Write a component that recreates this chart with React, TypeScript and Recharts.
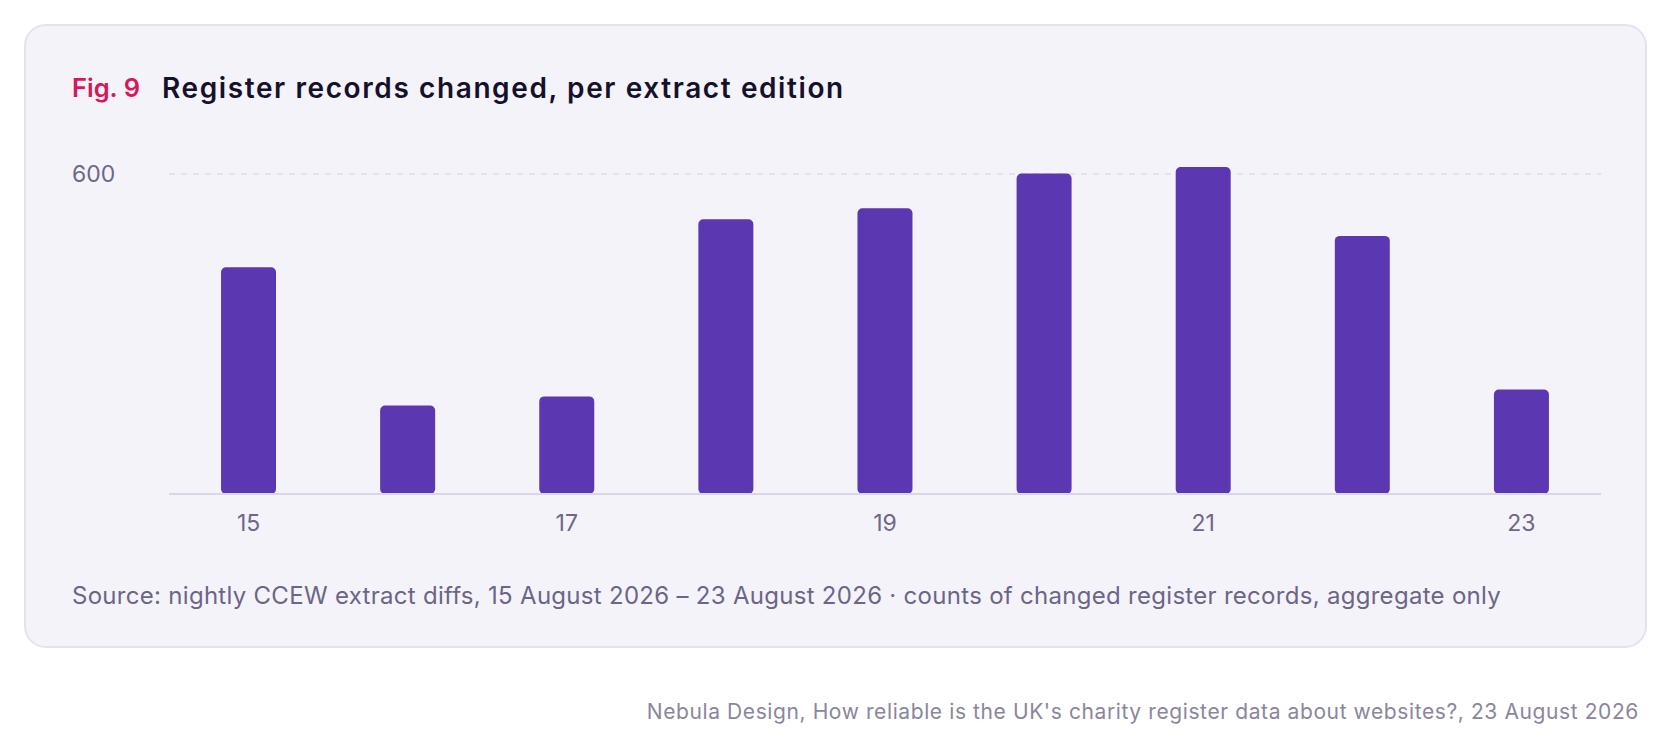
import React from 'react';
import { BarChart, Bar, XAxis, YAxis, CartesianGrid } from 'recharts';

const editions: string[] = ['15', '16', '17', '18', '19', '20', '21', '22', '23'];
const changedRecords: number[] = [425, 166, 183, 515, 536, 601, 613, 484, 196];
const yTicks: number[] = [600];

const data = editions.map((e, i) => ({ edition: e, changed: changedRecords[i] }));

const FONT = 'Inter, "Noto Sans", sans-serif';
const TICK_COLOR = '#6d6789';

const YTick = (props: any) => {
  const { y, payload } = props;
  return (
    <text x={72} y={y} dy={8} fill={TICK_COLOR} fontSize={23} fontFamily={FONT} textAnchor="start">
      {payload.value}
    </text>
  );
};

export default function App() {
  return (
    <div style={{ position: 'absolute', left: 0, top: 0, width: 1672, height: 749, background: '#ffffff', fontFamily: FONT }}>
      <div
        style={{
          position: 'absolute',
          left: 24,
          top: 24,
          width: 1623,
          height: 624,
          boxSizing: 'border-box',
          background: '#f5f3fa',
          border: '2px solid #e5e2ef',
          borderRadius: 22,
        }}
      />
      <div style={{ position: 'absolute', left: 72, top: 75, fontSize: 25.5, lineHeight: '25.5px', fontWeight: 600, color: '#d8175b', whiteSpace: 'nowrap' }}>
        Fig. 9
      </div>
      <div style={{ position: 'absolute', left: 162, top: 73.5, fontSize: 28, lineHeight: '28px', fontWeight: 600, letterSpacing: 1.6, color: '#15112b', whiteSpace: 'nowrap' }}>
        Register records changed, per extract edition
      </div>
      <div style={{ position: 'absolute', left: 0, top: 0 }}>
        <BarChart
          width={1672}
          height={560}
          data={data}
          margin={{ top: 152.7, right: 71, bottom: 26, left: 72 }}
          barCategoryGap="32.7%"
        >
          <CartesianGrid
            vertical={false}
            syncWithTicks
            stroke="#e4e1ee"
            strokeWidth={2}
            strokeDasharray="6 6"
          />
          <XAxis
            dataKey="edition"
            interval={1}
            height={40}
            tickLine={false}
            tickSize={6}
            tickMargin={15}
            axisLine={{ stroke: '#dad6e7', strokeWidth: 2 }}
            tick={{ fill: TICK_COLOR, fontSize: 23, fontFamily: FONT }}
          />
          <YAxis
            width={97}
            domain={[0, 640]}
            ticks={yTicks}
            axisLine={false}
            tickLine={false}
            tick={<YTick />}
          />
          <Bar dataKey="changed" fill="#5b37b1" radius={5} isAnimationActive={false} />
        </BarChart>
      </div>
      <div style={{ position: 'absolute', left: 72, top: 583.5, fontSize: 24, lineHeight: '24px', letterSpacing: 0.29, color: '#6b6588', whiteSpace: 'nowrap' }}>
        Source: nightly CCEW extract diffs, 15 August 2026 – 23 August 2026 · counts of changed register records, aggregate only
      </div>
      <div style={{ position: 'absolute', right: 33, top: 701, fontSize: 21, lineHeight: '21px', letterSpacing: 0.6, color: '#8a869c', whiteSpace: 'nowrap' }}>
        Nebula Design, How reliable is the UK's charity register data about websites?, 23 August 2026
      </div>
    </div>
  );
}
